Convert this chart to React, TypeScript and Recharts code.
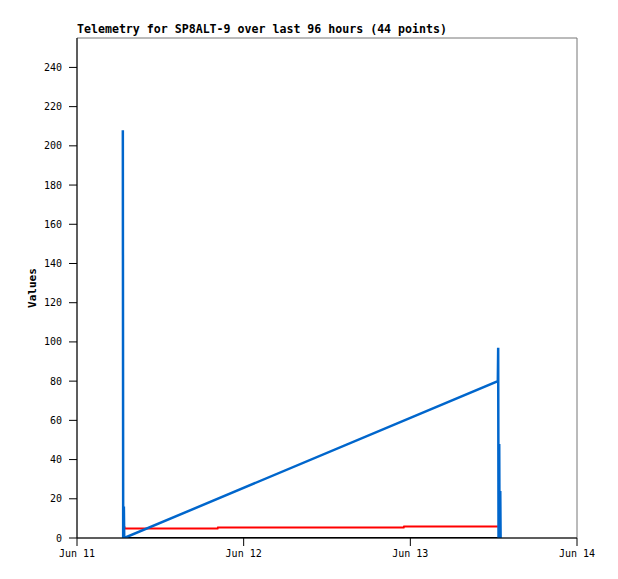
import { LineChart, Line, XAxis, YAxis, ReferenceArea } from "recharts";

// hours since Jun 11 00:00
const xTicks = [0, 24, 48, 72];
const xTickLabels = ["Jun 11", "Jun 12", "Jun 13", "Jun 14"];
const yTicks = [0, 20, 40, 60, 80, 100, 120, 140, 160, 180, 200, 220, 240];

const blueTimes = [6.6, 6.65, 6.75, 6.8, 60.6, 60.65, 60.7, 60.8, 60.85, 60.95, 61.0];
const blueValues = [208, 0, 16, 0, 80, 97, 0, 48, 0, 24, 0];

const redTimes = [6.8, 6.85, 20.25, 20.3, 47.05, 47.1, 60.6];
const redValues = [6.1, 4.9, 4.9, 5.4, 5.4, 5.9, 5.9];

const blackTimes = [6.6, 61.0];
const blackValues = [0, 0];

const zip = (ts: number[], vs: number[]) => ts.map((t, i) => ({ t, v: vs[i] }));

const blueData = zip(blueTimes, blueValues);
const redData = zip(redTimes, redValues);
const blackData = zip(blackTimes, blackValues);

const font = "'DejaVu Sans Mono', monospace";
const tickStyle = { fontFamily: font, fontSize: 10, fill: "#000" };

export default function App() {
    return (
        <div style={{ position: "absolute", left: 0, top: 0, width: 618, height: 579, background: "#fff" }}>
            <div
                style={{
                    position: "absolute",
                    left: 77,
                    top: 23,
                    fontFamily: font,
                    fontWeight: "bold",
                    fontSize: 11.6,
                    lineHeight: "13px",
                    whiteSpace: "nowrap",
                }}
            >
                Telemetry for SP8ALT-9 over last 96 hours (44 points)
            </div>
            <LineChart width={618} height={579} margin={{ top: 38, right: 41, bottom: 11, left: 30 }}>
                <ReferenceArea x1={0} x2={72} y1={0} y2={255} fill="none" stroke="#777" strokeWidth={1} ifOverflow="visible" />
                <XAxis
                    dataKey="t"
                    type="number"
                    domain={[0, 72]}
                    ticks={xTicks}
                    tickFormatter={(v: number) => xTickLabels[xTicks.indexOf(v)]}
                    tick={tickStyle}
                    tickSize={8}
                    tickMargin={4}
                    tickLine={{ stroke: "#000" }}
                    axisLine={{ stroke: "#000" }}
                    height={30}
                    allowDataOverflow
                />
                <YAxis
                    type="number"
                    domain={[0, 255]}
                    ticks={yTicks}
                    tick={tickStyle}
                    tickSize={8}
                    tickMargin={7}
                    tickLine={{ stroke: "#000" }}
                    axisLine={{ stroke: "#000" }}
                    width={47}
                    allowDataOverflow
                    label={(props: any) => {
                        const vb = props.viewBox;
                        const x = vb.x + 6;
                        const y = vb.y + vb.height / 2;
                        return (
                            <text
                                x={x}
                                y={y}
                                transform={`rotate(-90 ${x} ${y})`}
                                textAnchor="middle"
                                fontFamily={font}
                                fontWeight="bold"
                                fontSize={11}
                                fill="#000"
                            >
                                Values
                            </text>
                        );
                    }}
                />
                <Line data={blackData} dataKey="v" stroke="#000" strokeWidth={2} dot={false} isAnimationActive={false} />
                <Line data={redData} dataKey="v" stroke="#ff0000" strokeWidth={2} dot={false} isAnimationActive={false} />
                <Line data={blueData} dataKey="v" stroke="#0066cc" strokeWidth={2.5} dot={false} isAnimationActive={false} />
            </LineChart>
        </div>
    );
}
